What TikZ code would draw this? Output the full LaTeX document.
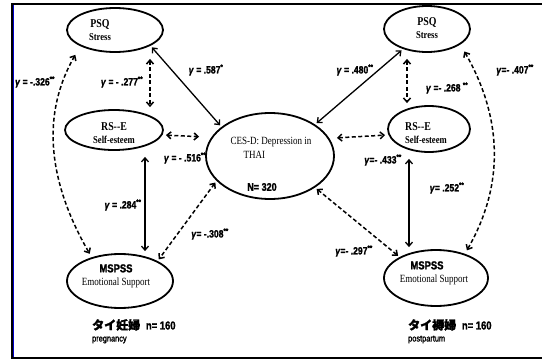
\documentclass[tikz,border=0pt]{standalone}
\usepackage{fontspec}
\setmainfont{Liberation Serif}
\newfontfamily\narrowserif[FakeStretch=0.82]{Liberation Serif}
\newfontfamily\narrowsans[FakeStretch=0.82,FakeBold=1.5]{Liberation Sans}
\newfontfamily\jpfont[FakeBold=1.5]{Noto Sans CJK JP}
\usetikzlibrary{shapes.geometric,arrows.meta,positioning}

\begin{document}
\begin{tikzpicture}[x=1pt,y=-1pt,
varnode/.style={ellipse, draw, line width=1.8pt, inner sep=0pt},
namenode/.style={font=\narrowserif\bfseries\fontsize{12}{13}\selectfont, align=center, inner sep=0pt},
gammanode/.style={font=\narrowsans\bfseries\fontsize{10.5}{11}\selectfont, inner sep=0pt},
grpnode/.style={font=\narrowsans\bfseries\fontsize{11.5}{13}\selectfont, align=left, inner sep=0pt, anchor=north west},
solidarrow/.style={line width=1.3pt, {Straight Barb[length=4pt,width=7pt]}-{Straight Barb[length=4pt,width=7pt]}, shorten <=2pt, shorten >=2pt},
dasharrow/.style={solidarrow, line width=1.5pt, dash pattern=on 4pt off 2.5pt}
]
\useasboundingbox (0,0) rectangle (542,362);
%Frame
\draw[line width=2pt] (542,4) -- (12,4) -- (12,358) -- (542,358);
\draw[blue!80!black, line width=1.2pt] (13.5,5) -- (13.5,357);

%Nodes
\node[varnode, minimum width=96pt, minimum height=44pt] (lpsq) at (115,30) {};
\node[varnode, minimum width=98pt, minimum height=40pt] (lrse) at (114,130) {};
\node[varnode, minimum width=106pt, minimum height=54pt] (lms)  at (120,281) {};
\node[varnode, minimum width=128pt, minimum height=86pt] (cesd) at (270,156) {};
\node[varnode, minimum width=86pt, minimum height=46pt] (rpsq) at (427,29) {};
\node[varnode, minimum width=82pt, minimum height=46pt] (rrse) at (429,129) {};
\node[varnode, minimum width=104pt, minimum height=56pt] (rms)  at (436,278) {};

%Texts
\node[namenode] (lpsqt) at (100,30) {PSQ\\{\fontsize{10.5}{12}\selectfont Stress}};
\node[namenode] (lrset) at (114,133) {RS--E\\{\fontsize{10.5}{12}\selectfont Self-esteem}};
\node[namenode] (lmst)  at (116,276) {{\narrowsans\fontsize{11.5}{13}\selectfont MSPSS}\\{\mdseries\fontsize{11}{13}\selectfont Emotional Support}};
\node[namenode, font=\narrowserif\fontsize{11}{14}\selectfont, align=left] (cesdt) at (271,148)
  {CES-D: Depression in\\\hspace*{13pt}THAI};
\node[gammanode, font=\narrowsans\bfseries\fontsize{11}{12}\selectfont] (cesdn) at (262,187) {N= 320};
\node[namenode] (rpsqt) at (427,28) {PSQ\\{\fontsize{10.5}{12}\selectfont Stress}};
\node[namenode] (rrset) at (426,133) {\hspace*{-16pt}RS--E\\{\fontsize{10.5}{12}\selectfont Self-esteem}};
\node[namenode] (rmst)  at (434,273) {{\narrowsans\fontsize{11.5}{13}\selectfont\hspace*{-14pt}MSPSS}\\{\mdseries\fontsize{11}{13}\selectfont Emotional Support}};

\node[grpnode] (lgrp) at (92,319) {{\jpfont\fontsize{12}{13}\selectfont タイ妊婦}\enspace n= 160\\[-1pt]{\mdseries\fontsize{9}{10}\selectfont pregnancy}};
\node[grpnode] (rgrp) at (408,319) {{\jpfont\fontsize{12}{13}\selectfont タイ褥婦}\enspace n= 160\\[-1pt]{\mdseries\fontsize{9}{10}\selectfont postpartum}};

%Gammas
\node[gammanode] (g1)  at (35,82)   {\textit{γ} = -.326\textsuperscript{**}};
\node[gammanode] (g2)  at (122,82)  {\textit{γ} = - .277\textsuperscript{**}};
\node[gammanode] (g3)  at (206,70)  {\textit{γ} = .587\textsuperscript{*}};
\node[gammanode] (g4)  at (185,158) {\textit{γ} = - .516\textsuperscript{**}};
\node[gammanode] (g5)  at (123,205) {\textit{γ} = .284\textsuperscript{**}};
\node[gammanode] (g6)  at (210,234) {\textit{γ}= -.308\textsuperscript{**}};
\node[gammanode] (g7)  at (355,70)  {\textit{γ} = .480\textsuperscript{**}};
\node[gammanode] (g8)  at (447,88)  {\textit{γ} =- .268 \textsuperscript{**}};
\node[gammanode] (g9)  at (515,70)  {\textit{γ}=- .407\textsuperscript{**}};
\node[gammanode] (g10) at (383,160) {\textit{γ}=- .433\textsuperscript{**}};
\node[gammanode] (g11) at (447,188) {\textit{γ}= .252\textsuperscript{**}};
\node[gammanode] (g12) at (354,251) {\textit{γ}=- .297\textsuperscript{**}};

%Lines
\draw[solidarrow] (lpsq.-24) -- (cesd.149);
\draw[dasharrow, shorten <=6pt] ([xshift=35pt]lpsq.south) -- ([xshift=36pt]lrse.north);
\draw[dasharrow, shorten >=6pt] ([yshift=-5pt]lrse.east) -- ([yshift=19pt]cesd.west);
\draw[solidarrow, shorten <=6pt] ([xshift=31pt]lrse.south) -- ([xshift=25pt]lms.north);
\draw[dasharrow] (cesd.205) -- (lms.28);
\draw[dasharrow, shorten <=10pt, shorten >=4pt] (lpsq.205) to[out=240, in=120] (lms.140);

\draw[solidarrow] (rpsq.220) -- (cesd.35);
\draw[dasharrow, shorten <=6pt] ([xshift=-20pt]rpsq.south) -- ([xshift=-22pt]rrse.north);
\draw[dasharrow, shorten <=2pt] ([yshift=18pt]cesd.east) -- ([yshift=-6pt]rrse.west);
\draw[solidarrow, shorten <=6pt] ([xshift=-20pt]rrse.south) -- ([xshift=-27pt]rms.north);
\draw[dasharrow] (cesd.-35) -- (rms.150);
\draw[dasharrow, shorten <=8pt, shorten >=4pt] (rpsq.-25) to[out=-60, in=60] (rms.40);
\end{tikzpicture}
\end{document}
